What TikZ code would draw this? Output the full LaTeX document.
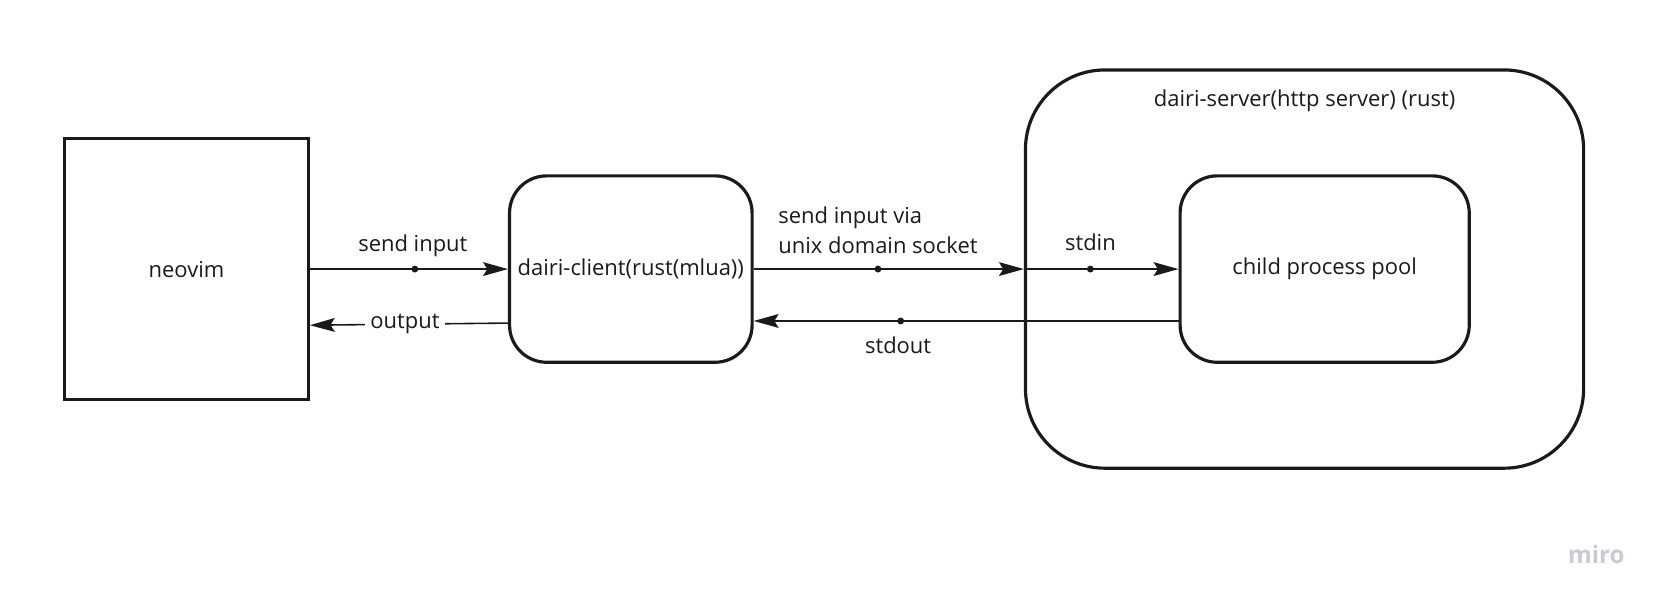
\documentclass[tikz,border=0pt]{standalone}
\usepackage{fontspec}
\setmainfont{Open Sans}
\usetikzlibrary{arrows.meta}
\definecolor{inkgray}{RGB}{26,26,26}
\definecolor{mirogray}{RGB}{200,203,215}
\tikzset{
  box/.style={draw=inkgray, line width=0.06cm, text=inkgray},
  roundbox/.style={box, rounded corners=0.7cm},
  arr/.style={draw=inkgray, line width=0.03cm, -{Stealth[length=0.47cm,width=0.26cm,inset=0.08cm]}},
  dot/.style={circle, fill=inkgray, inner sep=0pt, minimum size=0.13cm},
  lbl/.style={text=inkgray, inner sep=2pt}
}
\begin{document}
\begin{tikzpicture}[x=0.02cm, y=-0.02cm, font=\fontsize{11.8}{16.4}\selectfont]
        \useasboundingbox (0,0) rectangle (1568,567.4);

        % boxes
        \node[box, minimum width=4.6cm, minimum height=4.92cm] (neovim) at (176,254) {neovim};
        \node[roundbox, minimum width=4.58cm, minimum height=3.52cm] (client) at (595.5,254) {dairi-client(rust(mlua))};
        \node[box, rounded corners=1.5cm, minimum width=10.54cm, minimum height=7.52cm] (server) at (1231.5,254) {};
        \node[lbl] (servername) at ([yshift=-0.62cm]server.north) {dairi-server(http server) (rust)};
        \node[roundbox, minimum width=5.46cm, minimum height=3.52cm] (pool) at (1250.5,254) {child process pool};

        % requests
        \draw[arr] (neovim.east) -- node[dot, pos=0.53] {} node[lbl, above=0.15cm, pos=0.52] {send input} (client.west);
        \draw[arr] (client.east) -- node[dot, pos=0.46] (sockdot) {}
            node[lbl, above=0.2cm, pos=0.46, align=left] {send input via\\unix domain socket} (server.west);
        \draw[arr] (server.west) -- node[dot, pos=0.43] {} node[lbl, above=0.26cm, pos=0.43] {stdin} (pool.west);

        % responses
        \draw[arr] ([yshift=-0.98cm]pool.west) -- node[dot, pos=0.654] {}
            node[lbl, below=0.21cm, pos=0.66] {stdout} ([yshift=-0.98cm]client.east);
        \draw[arr] ([yshift=-1.02cm]client.west) -- node[lbl, fill=white, pos=0.52, inner sep=3pt] {output} ([yshift=-1.06cm]neovim.east);

        \node[text=mirogray, font=\fontsize{13}{15}\selectfont\bfseries] (miro) at (1507,523) {miro};
\end{tikzpicture}
\end{document}
